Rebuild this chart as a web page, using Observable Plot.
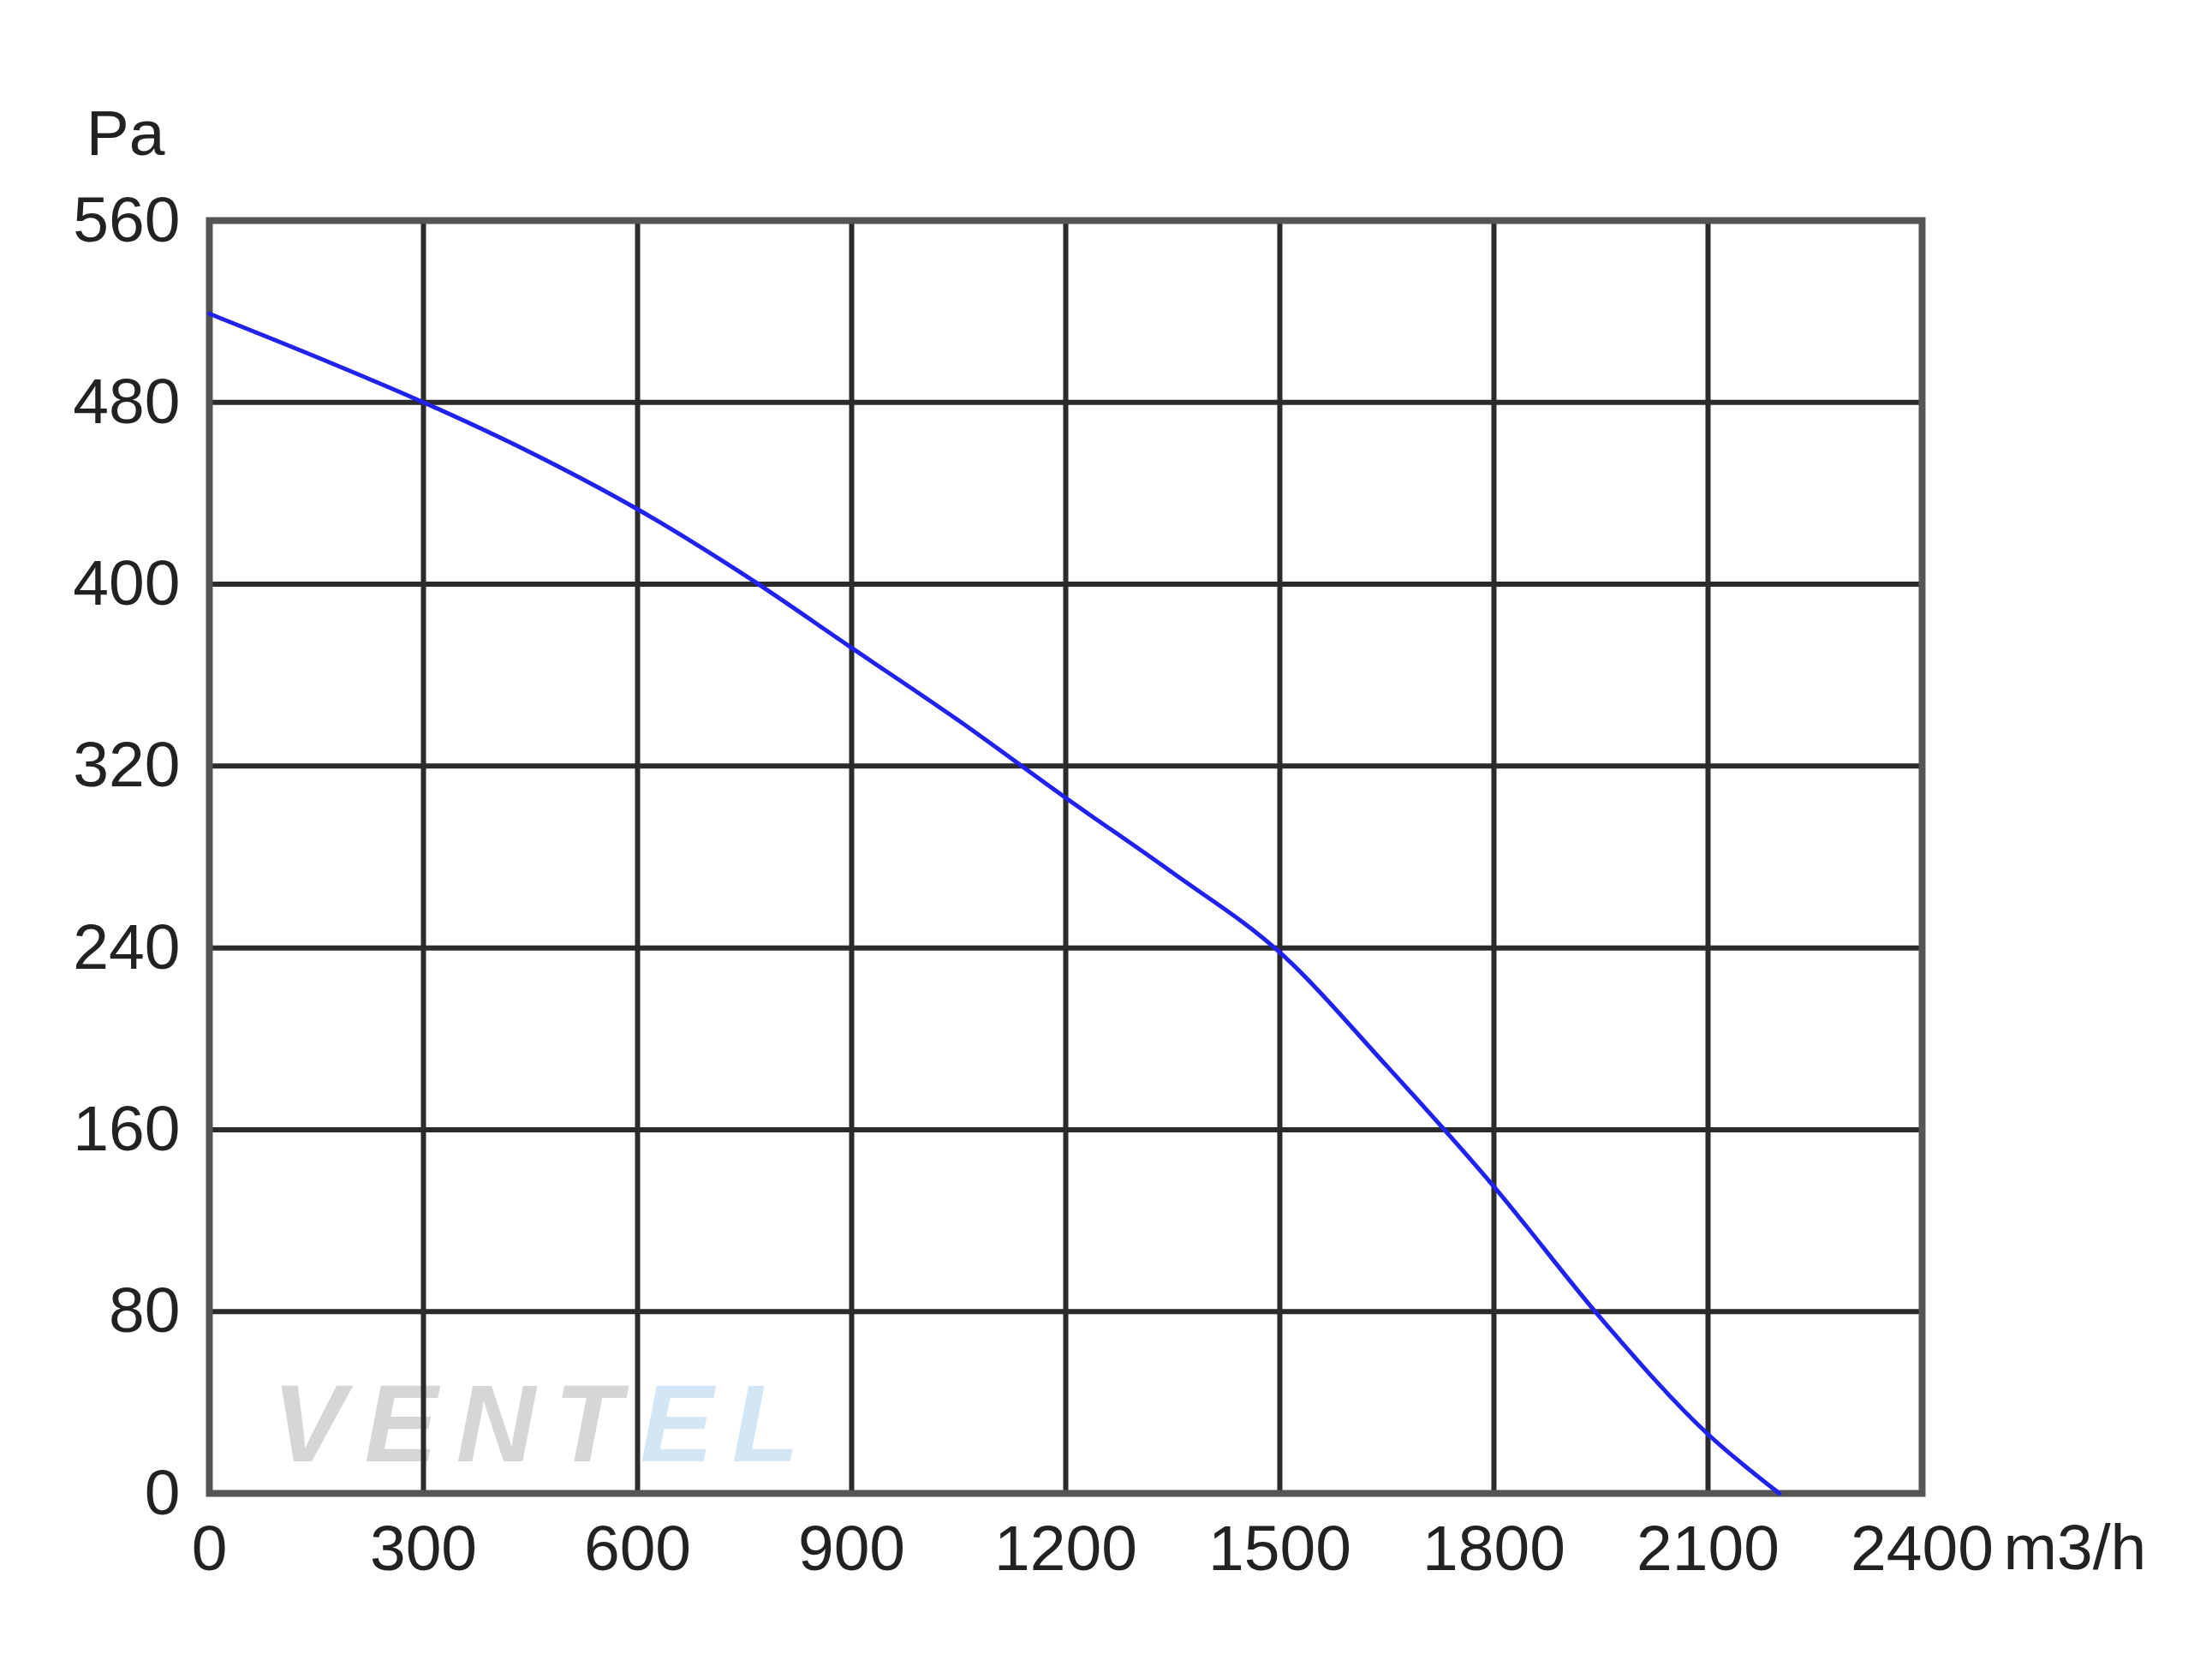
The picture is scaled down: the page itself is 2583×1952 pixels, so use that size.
<!DOCTYPE html>
<html>
<head>
<meta charset="utf-8">
<script src="https://cdn.jsdelivr.net/npm/d3@7"></script>
<script src="https://cdn.jsdelivr.net/npm/@observablehq/plot@0.6"></script>
<style>
  html, body { margin: 0; padding: 0; background: #fff; }
  #wrap { position: relative; width: 2583px; height: 1952px; }
  #wm { position: absolute; left: 318px; top: 1598px; font-family: "Liberation Sans", Arial, sans-serif;
        font-weight: bold; font-style: italic; font-size: 128px; letter-spacing: 22px; color: #d6d6d6; line-height: 1; }
  #wm span { color: #d3e6f5; }
  #chart { position: absolute; left: 0; top: 0; }
</style>
</head>
<body>
<div id="wrap">
  <div id="wm">VENT<span>EL</span></div>
  <div id="chart"></div>
</div>
<script>
// Airflow (m3/h) vs static pressure (Pa)
const flow     = [0,   150, 300, 450, 600, 750, 900, 1050, 1200, 1350, 1500, 1650, 1800, 1950, 2100, 2200];
const pressure = [519, 500, 480, 458, 433, 404, 372, 340,  306,  273,  238,  188,  135,  77,   26,   0];
const xTicks = [0, 300, 600, 900, 1200, 1500, 1800, 2100, 2400];
const yTicks = [0, 80, 160, 240, 320, 400, 480, 560];
const xUnit = "m3/h";
const yUnit = "Pa";

const data = flow.map((f, i) => ({flow: f, pressure: pressure[i]}));
const font = "Liberation Sans, Arial, sans-serif";

const chart = Plot.plot({
  width: 2583,
  height: 1952,
  marginLeft: 244,
  marginRight: 339,
  marginTop: 257,
  marginBottom: 209,
  style: {fontFamily: font, fontSize: "75px", color: "#222", background: "transparent"},
  x: {domain: [0, 2400]},
  y: {domain: [0, 560]},
  marks: [
    Plot.ruleX(xTicks, {stroke: "#2b2b2b", strokeWidth: 6}),
    Plot.ruleY(yTicks, {stroke: "#2b2b2b", strokeWidth: 6}),
    Plot.frame({stroke: "#555", strokeWidth: 8}),
    Plot.axisX(xTicks, {tickSize: 0, tickPadding: 36, label: null, fontSize: 75, fill: "#222", tickFormat: d => String(d)}),
    Plot.axisY(yTicks, {tickSize: 0, tickPadding: 34, label: null, fontSize: 75, fill: "#222", tickFormat: d => String(d)}),
    Plot.line(data, {x: "flow", y: "pressure", stroke: "#2222ee", strokeWidth: 5, curve: "monotone-x"}),
    Plot.text([yUnit], {x: () => 0, y: () => 560, text: d => d, dx: -98, dy: -101, fontSize: 75, fill: "#222", textAnchor: "middle"}),
    Plot.text([xUnit], {x: () => 2400, y: () => 0, text: d => d, dx: 95, dy: 64, fontSize: 75, fill: "#222", textAnchor: "start"})
  ]
});
document.getElementById("chart").appendChild(chart);
</script>
</body>
</html>
